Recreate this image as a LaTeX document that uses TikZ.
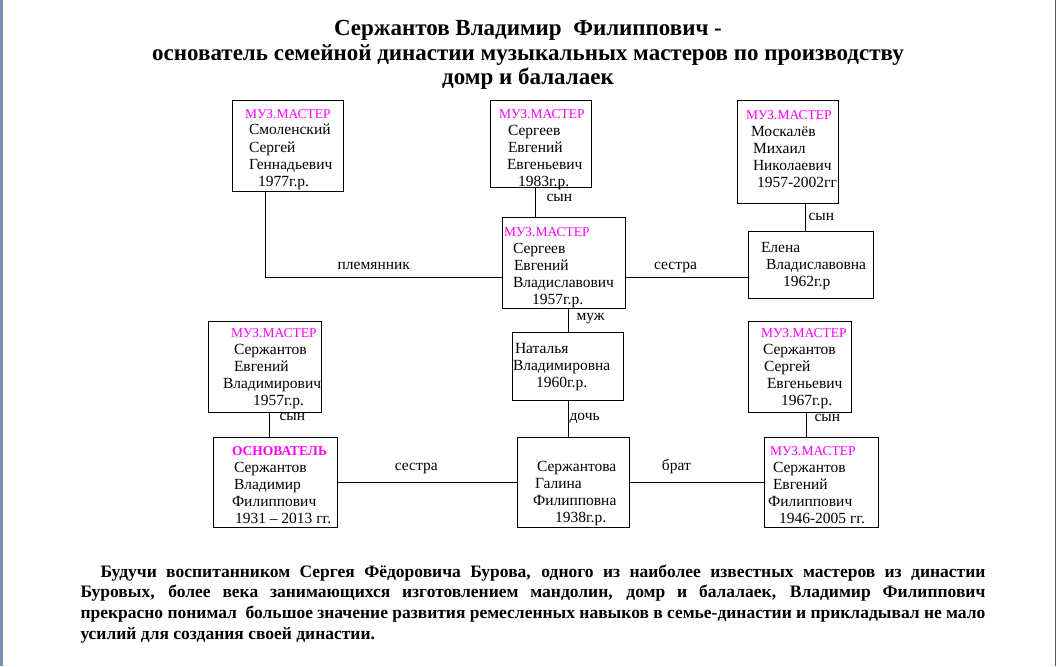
\documentclass[tikz,border=0pt]{standalone}
\usepackage{fontspec}
\setmainfont{Liberation Serif}

\definecolor{muzpink}{RGB}{255,0,255}
\definecolor{winbar}{RGB}{122,142,182}
\newcommand{\boxfont}{\fontsize{15.5}{17}\selectfont}
\newcommand{\headfont}{\fontsize{13.5}{17}\selectfont}
\newcommand{\titlefont}{\fontsize{23}{24.5}\selectfont\bfseries}
\newcommand{\parafont}{\fontsize{17.5}{20.7}\selectfont\bfseries}
\newcommand{\muzm}{{\headfont\color{muzpink}МУЗ.МАСТЕР}}
\newcommand{\ind}[1]{\hspace*{#1pt}}
% card: width, height, gap above first line, lines
\newcommand{\card}[4]{\parbox[c][#2pt][t]{#1pt}{\boxfont\raggedright\exhyphenpenalty=10000
  \vspace*{#3pt}\rule{0pt}{12pt}#4}}

\begin{document}
\begin{tikzpicture}[x=1pt,y=-1pt,line width=1pt]
  \tikzstyle{person}=[draw,rectangle,inner sep=0pt]
  \tikzstyle{rel}=[font=\boxfont,inner sep=0pt]

  \fill[white] (0,0) rectangle (1056,666);
  \useasboundingbox (0,0) rectangle (1056,666);
  \fill[winbar] (0,0) rectangle (2.7,666);
  \fill[black!65] (1054.5,0) rectangle (1056,666);

  % title
  \node[align=center,font=\titlefont,inner sep=0pt] (title) at (528,55)
    {Сержантов Владимир\ \ Филиппович -\\
     основатель семейной династии музыкальных мастеров по производству\\
     домр и балалаек};

  % upper row
  \node[person] (smol) at (287.5,146)
    {\card{111}{90}{5}{\ind{13}\muzm\\ \ind{17}Смоленский\\ \ind{17}Сергей\\ \ind{17}Геннадьевич\\ \ind{26}1977г.р.}};
  \node[person] (seee) at (540.5,144)
    {\card{101}{86}{5.3}{\ind{9}\muzm\\ \ind{18}Сергеев\\ \ind{18}Евгений\\ \ind{17}Евгеньевич\\ \ind{28}1983г.р.}};
  \node[person] (mosk) at (787.5,152)
    {\card{101}{102}{6}{\ind{9}\muzm\\ \ind{14}Москалёв\\ \ind{16}Михаил\\ \ind{16}Николаевич\\ \ind{20}1957-2002гг}};

  % middle row
  \node[person] (sev) at (563.5,262.5)
    {\card{123}{91}{7.7}{\ind{2}\muzm\\ \ind{11}Сергеев\\ \ind{12}Евгений\\ \ind{11}Владиславович\\ \ind{30}1957г.р.}};
  \node[person] (elena) at (810.5,264.5)
    {\card{125}{67}{9.3}{\ind{13}Елена\\ \ind{18}Владиславовна\\ \ind{35}1962г.р}};

  \node[person] (seev) at (264.5,366.5)
    {\card{113}{91}{4.7}{\ind{23}\muzm\\ \ind{26}Сержантов\\ \ind{26}Евгений\\ \ind{15}Владимирович\\ \ind{45}1957г.р.}};
  \node[person] (natal) at (567.5,366)
    {\card{111}{68}{9.3}{\ind{3}Наталья\\ \ind{1}Владимировна\\ \ind{24}1960г.р.}};
  \node[person] (sese) at (799.5,366.5)
    {\card{103}{91}{4.7}{\ind{13}\muzm\\ \ind{15}Сержантов\\ \ind{16}Сергей\\ \ind{19}Евгеньевич\\ \ind{33}1967г.р.}};

  % lower row
  \node[person] (found) at (275,482)
    {\card{124}{90}{6}{\ind{19}{\headfont\color{muzpink}\bfseries ОСНОВАТЕЛЬ}\\ \ind{21}Сержантов\\ \ind{21}Владимир\\ \ind{19}Филиппович\\ \ind{22}1931 – 2013 гг.}};
  \node[person] (galina) at (573,482)
    {\card{112}{90}{5.7}{\\ \ind{20}Сержантова\\ \ind{18}Галина\\ \ind{16}Филипповна\\ \ind{38}1938г.р.}};
  \node[person] (sef) at (821,482)
    {\card{114}{90}{6.7}{\ind{6}\muzm\\ \ind{9}Сержантов\\ \ind{9}Евгений\\ \ind{4}Филиппович\\ \ind{15}1946-2005 гг.}};

  % relations
  \draw ([xshift=-22.5pt]smol.south) |- node[rel,pos=0.73,anchor=base,yshift=7.5pt] {племянник} ([yshift=-14.5pt]sev.west);
  \draw ([xshift=-5.5pt]seee.south) -- node[rel,pos=0.37,anchor=west,xshift=11pt] {сын} ([xshift=-5.5pt]seee.south |- sev.north);
  \draw ([yshift=-14.5pt]sev.east) -- node[rel,pos=0.41,anchor=base,yshift=7.5pt] {сестра} ([yshift=-14.5pt]sev.east -| elena.west);
  \draw ([xshift=17.5pt]mosk.south) -- node[rel,pos=0.5,anchor=west,xshift=3pt] {сын} ([xshift=17.5pt]mosk.south |- elena.north);
  \draw ([xshift=4.5pt]sev.south) -- node[rel,pos=0.45,anchor=west,xshift=8pt] {муж} ([xshift=4.5pt]sev.south |- natal.north);
  \draw ([xshift=0.5pt]natal.south) -- node[rel,pos=0.49,anchor=west,xshift=1pt] {дочь} ([xshift=0.5pt]natal.south |- galina.north);
  \draw ([xshift=4.5pt]seev.south) -- node[rel,pos=0.2,anchor=west,xshift=10pt] {сын} ([xshift=4.5pt]seev.south |- found.north);
  \draw ([xshift=6.5pt]sese.south) -- node[rel,pos=0.24,anchor=west,xshift=8pt] {сын} ([xshift=6.5pt]sese.south |- sef.north);
  \draw (found.east) -- node[rel,pos=0.44,anchor=base,yshift=11.5pt] {сестра} (galina.west);
  \draw (galina.east) -- node[rel,pos=0.35,anchor=base,yshift=11.5pt] {брат} (sef.west);

  % text below
  \node[anchor=north west,text width=905pt,align=justify,inner sep=0pt,font=\parafont] (para) at (80,564)
    {\hyphenpenalty=10000 \exhyphenpenalty=10000
     \spaceskip=0.25em plus 0.5em minus 0.12em
     \hspace*{20pt}Будучи воспитанником Сергея Фёдоровича Бурова, одного из наиболее известных мастеров из династии\linebreak
     Буровых, более века занимающихся изготовлением мандолин, домр и балалаек, Владимир Филиппович\linebreak
     прекрасно понимал\ \ большое значение развития ремесленных навыков в семье-династии и прикладывал не мало\linebreak
     усилий для создания своей династии.};
\end{tikzpicture}
\end{document}
